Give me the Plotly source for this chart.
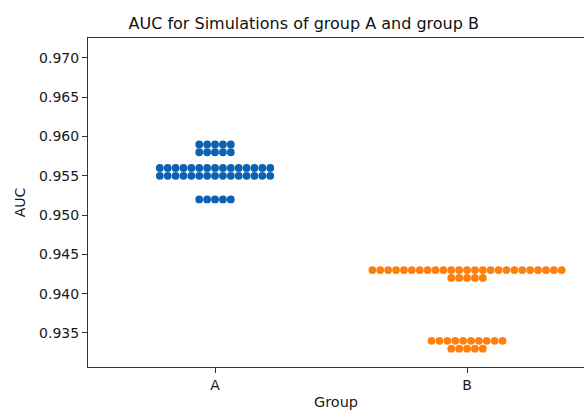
import plotly.graph_objects as go

# Data (AUC per simulation)
groups = ["A", "B"]
auc_group_a = [
    0.959, 0.959, 0.959, 0.959, 0.959,
    0.958, 0.958, 0.958, 0.958, 0.958,
    0.956, 0.956, 0.956, 0.956, 0.956, 0.956, 0.956, 0.956,
    0.956, 0.956, 0.956, 0.956, 0.956, 0.956, 0.956,
    0.955, 0.955, 0.955, 0.955, 0.955, 0.955, 0.955, 0.955,
    0.955, 0.955, 0.955, 0.955, 0.955, 0.955, 0.955,
    0.952, 0.952, 0.952, 0.952, 0.952,
]
auc_group_b = [
    0.943, 0.943, 0.943, 0.943, 0.943, 0.943, 0.943, 0.943, 0.943,
    0.943, 0.943, 0.943, 0.943, 0.943, 0.943, 0.943, 0.943, 0.943,
    0.943, 0.943, 0.943, 0.943, 0.943, 0.943, 0.943,
    0.942, 0.942, 0.942, 0.942, 0.942,
    0.934, 0.934, 0.934, 0.934, 0.934, 0.934, 0.934, 0.934, 0.934, 0.934,
    0.933, 0.933, 0.933, 0.933, 0.933,
]
y_ticks = [0.935, 0.940, 0.945, 0.950, 0.955, 0.960, 0.965, 0.970]
colors = ["#0b62b2", "#ff7f0e"]

SPACING = 0.0313  # horizontal spacing between swarm dots, in category units


def swarm_offsets(values, center):
    """Simple beeswarm: dots sharing a value are spread symmetrically."""
    xs = []
    counts = {}
    for v in values:
        counts[v] = counts.get(v, 0) + 1
    seen = {}
    for v in values:
        i = seen.get(v, 0)
        seen[v] = i + 1
        n = counts[v]
        xs.append(center + (i - (n - 1) / 2) * SPACING)
    return xs


fig = go.Figure()
for gi, (name, vals) in enumerate(zip(groups, [auc_group_a, auc_group_b])):
    fig.add_trace(go.Scatter(
        x=swarm_offsets(vals, gi),
        y=vals,
        mode="markers",
        marker=dict(size=7.8, color=colors[gi], line=dict(width=0)),
        name=name,
        showlegend=False,
    ))

font_family = "DejaVu Sans"
fig.update_layout(
    width=584, height=413,
    margin=dict(l=88, r=0, t=38, b=46),
    paper_bgcolor="white",
    plot_bgcolor="white",
    font=dict(family=font_family, size=14, color="#1a1a1a"),
    title=dict(
        text="AUC for Simulations of group A and group B",
        x=0.435, xref="paper", xanchor="center",
        y=1, yref="paper", yanchor="bottom",
        pad=dict(b=9),
        font=dict(family=font_family, size=16, color="#111"),
    ),
    xaxis=dict(
        range=[-0.504, 1.464],
        tickmode="array", tickvals=[0, 1], ticktext=groups,
        showgrid=False, zeroline=False,
        showline=True, linecolor="#333", linewidth=1, mirror=True,
        ticks="outside", ticklen=5, tickcolor="#333",
        title=dict(text="Group", standoff=5, font=dict(size=14.5)),
    ),
    yaxis=dict(
        range=[0.93067, 0.97254],
        tickmode="array", tickvals=y_ticks,
        ticktext=[f"{t:.3f}" for t in y_ticks],
        showgrid=False, zeroline=False,
        showline=True, linecolor="#333", linewidth=1, mirror=False,
        ticks="outside", ticklen=5, tickcolor="#333",
        title=dict(text="AUC", standoff=10, font=dict(size=14)),
    ),
)

fig.write_html("out.html")
